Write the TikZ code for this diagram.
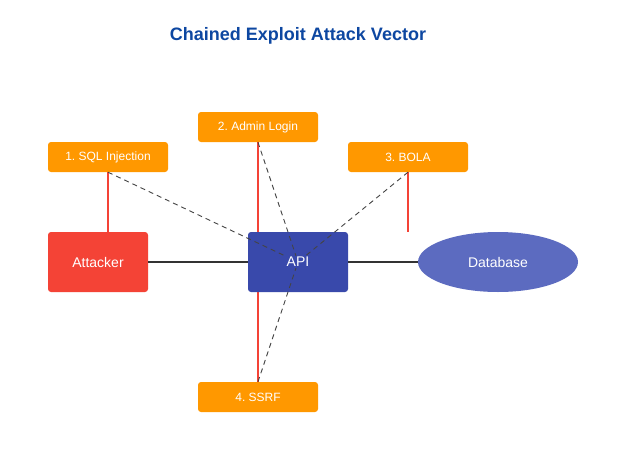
\documentclass[tikz,border=0pt]{standalone}
\usepackage{fontspec}
\setmainfont{Liberation Sans}
\frenchspacing
\usetikzlibrary{shapes.geometric}
\definecolor{orangec}{HTML}{FF9800}
\definecolor{redc}{HTML}{F44336}
\definecolor{apic}{HTML}{3949AB}
\definecolor{dbc}{HTML}{5C6BC0}
\definecolor{titlec}{HTML}{0D47A1}
\definecolor{linec}{HTML}{333333}
\definecolor{dashc}{HTML}{444444}
\begin{document}
\begin{tikzpicture}[x=1pt,y=-1pt,
  stepbox/.style={fill=orangec, rounded corners=3pt, minimum width=120pt, minimum height=30pt, inner sep=0pt, text=white, font=\fontsize{12}{14}\selectfont},
  mainbox/.style={rounded corners=3pt, minimum width=100pt, minimum height=60pt, inner sep=0pt, text=white, font=\fontsize{14}{16}\selectfont},
  redline/.style={draw=redc, line width=1.6pt},
  blackline/.style={draw=linec, line width=1.6pt},
  dashline/.style={draw=dashc, line width=0.9pt, dash pattern=on 5pt off 4pt}]
\path[use as bounding box, fill=white] (0,0) rectangle (630,461);
\node[font=\bfseries\fontsize{18}{20}\selectfont, text=titlec] (title) at (298,36) {Chained Exploit Attack Vector};
\node[stepbox] (sql) at (108,157) {1. SQL Injection};
\node[stepbox] (admin) at (258,127) {2. Admin Login};
\node[stepbox] (bola) at (408,157) {3. BOLA};
\node[stepbox] (ssrf) at (258,397) {4. SSRF};
\coordinate (bolaend) at (408,232);
\node[mainbox, fill=redc] (attacker) at (98,262) {Attacker};
\node[ellipse, fill=dbc, minimum width=160pt, minimum height=60pt, inner sep=0pt, text=white, font=\fontsize{14}{16}\selectfont] (db) at (498,262) {Database};
\draw[redline] (sql.south) -- (sql.south |- attacker.north);
\draw[redline] (admin.south) -- (ssrf.north);
\draw[redline] (bola.south) -- (bolaend);
\node[mainbox, fill=apic] (api) at (298,262) {};
\draw[blackline] (attacker.east) -- (api.west);
\draw[blackline] (api.east) -- (db.west);
\node[text=white, font=\fontsize{14}{16}\selectfont, inner sep=1pt] (apilbl) at (298,262) {API};
\draw[dashline] (sql.south) -- (apilbl);
\draw[dashline] (admin.south) -- (apilbl);
\draw[dashline] (bola.south) -- (apilbl);
\draw[dashline] (ssrf.north) -- (apilbl);
\end{tikzpicture}
\end{document}
